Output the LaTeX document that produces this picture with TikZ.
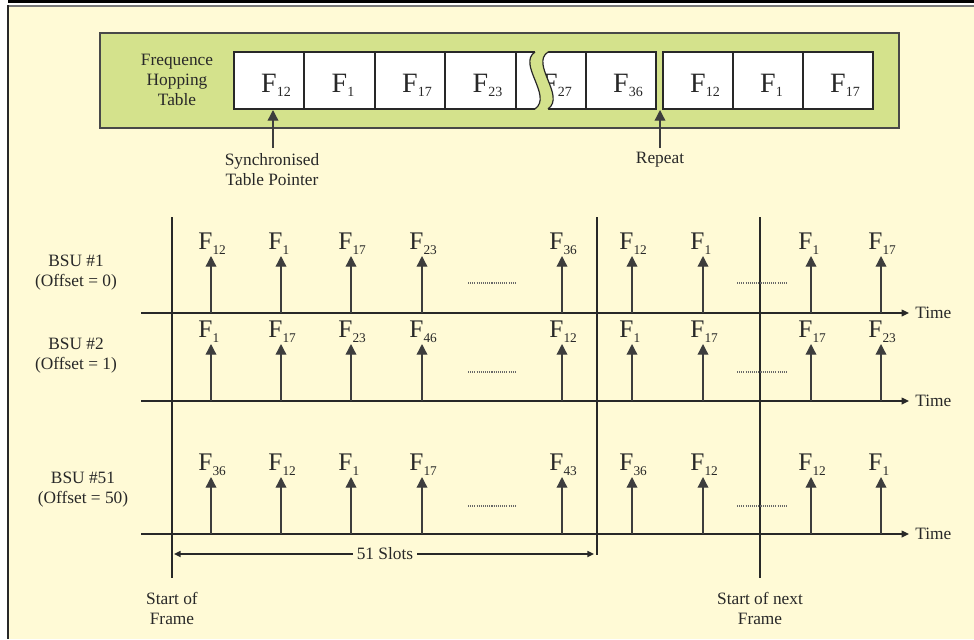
\documentclass[tikz,border=0pt]{standalone}
\usepackage{fontspec}
\setmainfont{Liberation Serif}
\usetikzlibrary{arrows.meta}

\definecolor{paper}{RGB}{255,250,214}
\definecolor{tablegreen}{RGB}{212,226,140}
\definecolor{ink}{RGB}{40,40,40}
\definecolor{rule}{RGB}{120,120,120}

% frequency labels: a large F with a lowered index hanging to its right
\newcommand\TabF[1]{F\rlap{\raisebox{-3pt}{\fontsize{10.5}{10.5}\selectfont #1}}}
\newcommand\SlotF[1]{F\rlap{\raisebox{-4pt}{\fontsize{10}{10}\selectfont #1}}}

% one hop slot: #1 name, #2 x, #3 axis y, #4 channel index
\newcommand\hopslot[4]{%
  \coordinate (#1b) at (#2,#3);
  \coordinate (#1t) at (#2,#3-57);
  \draw[pulse] (#1b) -- (#1t);
  \node[slotF, anchor=base] (#1f) at (#2-5.5,#3-64) {\SlotF{#4}};
}

\begin{document}
\begin{tikzpicture}[x=0.75pt,y=-0.75pt,
  lbl/.style={font=\fontsize{13}{15}\selectfont, align=center, text=ink, inner sep=0pt},
  tabF/.style={font=\fontsize{21}{21}\selectfont, text=ink, inner sep=0pt},
  slotF/.style={font=\fontsize{19}{19}\selectfont, text=ink, inner sep=0pt},
  cellbox/.style={draw=ink, fill=white, line width=0.9pt},
  pulse/.style={draw=ink!90, line width=1pt, -{Triangle[width=8pt,length=8pt]}},
  axis/.style={draw=ink, line width=1pt, -{Triangle[width=5pt,length=5.5pt]}},
  marker/.style={draw=ink, line width=1pt},
  dimline/.style={draw=ink, line width=1.2pt, {Triangle[width=4.5pt,length=5pt]}-{Triangle[width=4.5pt,length=5pt]}},
  gapdots/.style={draw=ink!70, line width=0.8pt, dash pattern=on 0.8pt off 0.8pt}
]
\useasboundingbox (0,0) rectangle (974,639);

% page frame
\fill[white] (0,0) rectangle (974,639);
\fill[black] (8,0) rectangle (974,2.7);
\fill[paper] (8,6) rectangle (974,639);
\draw[rule, line width=1.5pt] (7,5.5) -- (974,5.5);
\draw[ink, line width=1.2pt] (8,5) -- (8,639);

% hopping table
\draw[fill=tablegreen, draw=ink!85, line width=1.1pt] (100,33) rectangle (899,128);
\node[lbl] (tabname) at (177,80) {Frequence\\Hopping\\Table};

\foreach \xa/\xb/\xc/\l [count=\i] in
  {234/304/269/12, 304/375/339.5/1, 375/445/410/17, 445/516/480.5/23,
   516/586/550/27, 586/656/621/36, 663/733/698/12, 733/803/768/1, 803/873/838/17} {
  \draw[cellbox] (\xa,52) rectangle (\xb,109);
  \node[tabF, anchor=base] (cell\i) at (\xc,92) {\TabF{\l}};
}

% break in the table
\fill[tablegreen] (535,50) -- (535,52) .. controls (517,64) and (553,96) .. (535,109)
  -- (535,111) -- (548,111) -- (548,109) .. controls (566,96) and (530,64) .. (548,52)
  -- (548,50) -- cycle;
\draw[ink, line width=0.9pt] (535,52) .. controls (517,64) and (553,96) .. (535,109);
\draw[ink, line width=0.9pt] (548,52) .. controls (530,64) and (566,96) .. (548,109);

% table pointers
\coordinate (ptrA) at (273,148);
\coordinate (ptrAt) at (273,110);
\draw[pulse] (ptrA) -- (ptrAt);
\node[lbl] (ptrtext) at (272,170) {Synchronised\\Table Pointer};

\coordinate (rep) at (660,148);
\coordinate (rept) at (660,110);
\draw[pulse] (rep) -- (rept);
\node[lbl] (reptext) at (660,160) {Repeat};

% frame markers
\coordinate (f1t) at (172,217);  \coordinate (f1b) at (172,578);
\coordinate (f2t) at (597,217);  \coordinate (f2b) at (597,555);
\coordinate (f3t) at (760,217);  \coordinate (f3b) at (760,578);
\draw[marker] (f1t) -- (f1b);
\draw[marker] (f2t) -- (f2b);
\draw[marker] (f3t) -- (f3b);

% time axes
\coordinate (ax1s) at (141,313); \coordinate (ax1e) at (909,313);
\coordinate (ax2s) at (141,401); \coordinate (ax2e) at (909,401);
\coordinate (ax3s) at (141,534); \coordinate (ax3e) at (909,534);
\draw[axis] (ax1s) -- (ax1e);
\draw[axis] (ax2s) -- (ax2e);
\draw[axis] (ax3s) -- (ax3e);
\node[lbl, anchor=west] (time1) at (915,313) {Time};
\node[lbl, anchor=west] (time2) at (915,401) {Time};
\node[lbl, anchor=west] (time3) at (915,534) {Time};

% station labels
\node[lbl] (bsu1) at (76,273) {BSU \#1\\(Offset = 0)};
\node[lbl] (bsu2) at (76,356) {BSU \#2\\(Offset = 1)};
\node[lbl] (bsu51) at (83,490) {BSU \#51\\(Offset = 50)};

% hop slots
\foreach \x/\l [count=\i] in {211/12,281/1,351/17,422/23,562/36,632/12,703/1,811/1,881/17}
  {\hopslot{ra\i}{\x}{313}{\l}}
\foreach \x/\l [count=\i] in {211/1,281/17,351/23,422/46,562/12,632/1,703/17,811/17,881/23}
  {\hopslot{rb\i}{\x}{401}{\l}}
\foreach \x/\l [count=\i] in {211/36,281/12,351/1,422/17,562/43,632/36,703/12,811/12,881/1}
  {\hopslot{rc\i}{\x}{534}{\l}}

% omitted slots
\foreach \y [count=\i] in {283,372,506} {
  \coordinate (dl\i a) at (468,\y); \coordinate (dl\i b) at (517,\y);
  \coordinate (dr\i a) at (737,\y); \coordinate (dr\i b) at (788,\y);
  \draw[gapdots] (dl\i a) -- (dl\i b);
  \draw[gapdots] (dr\i a) -- (dr\i b);
}

% frame length
\coordinate (slA) at (174,554);
\coordinate (slB) at (594,554);
\draw[dimline] (slA) -- (slB);
\node[lbl, fill=paper, inner xsep=3pt] (slots) at (385,554) {51 Slots};

\node[lbl] (startA) at (172,608) {Start of\\Frame};
\node[lbl] (startB) at (760,608) {Start of next\\Frame};
\end{tikzpicture}
\end{document}
